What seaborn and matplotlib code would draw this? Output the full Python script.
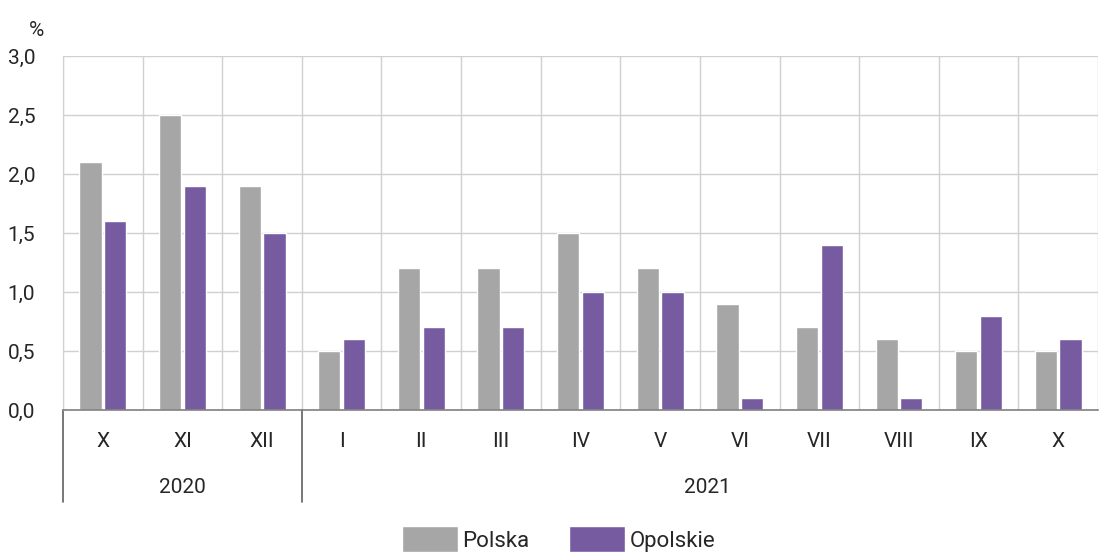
import pandas as pd
import matplotlib.pyplot as plt
import matplotlib.transforms as mtransforms
import seaborn as sns

miesiace = ['X', 'XI', 'XII', 'I', 'II', 'III', 'IV', 'V', 'VI', 'VII', 'VIII', 'IX', 'X']
lata = ['2020', '2020', '2020', '2021', '2021', '2021', '2021', '2021', '2021', '2021', '2021', '2021', '2021']
polska = [2.1, 2.5, 1.9, 0.5, 1.2, 1.2, 1.5, 1.2, 0.9, 0.7, 0.6, 0.5, 0.5]
opolskie = [1.6, 1.9, 1.5, 0.6, 0.7, 0.7, 1.0, 1.0, 0.1, 1.4, 0.1, 0.8, 0.6]
serie = ['Polska', 'Opolskie']
kolory = ['#a6a6a6', '#744fad']

klucze = [f'{r}-{m}' for r, m in zip(lata, miesiace)]
df = pd.DataFrame({
    'klucz': klucze * 2,
    'wartosc': polska + opolskie,
    'seria': ['Polska'] * len(polska) + ['Opolskie'] * len(opolskie),
})

sns.set_style('white')
plt.rcParams['font.family'] = ['Roboto', 'DejaVu Sans']

fig = plt.figure(figsize=(11.02, 5.57), dpi=100)
ax = fig.add_axes([0.0572, 0.2639, 0.9392, 0.6356])

sns.barplot(data=df, x='klucz', y='wartosc', hue='seria', order=klucze, hue_order=serie,
            palette=kolory, width=0.62, gap=0.1, ax=ax, legend=True)

ax.set_xlim(-0.5, len(klucze) - 0.5)
ax.set_ylim(0, 3.0)
ax.set_yticks([i * 0.5 for i in range(7)])
ax.set_yticklabels([f'{i * 0.5:.1f}'.replace('.', ',') for i in range(7)], fontsize=15)
ax.set_xticks(range(len(klucze)))
ax.set_xticklabels(miesiace, fontsize=15)
ax.tick_params(axis='both', length=0)
ax.tick_params(axis='x', pad=16)
ax.tick_params(axis='y', pad=20)
ax.set_xlabel('')
ax.set_ylabel('')

ax.set_xticks([i - 0.5 for i in range(len(klucze) + 1)], minor=True)
ax.tick_params(axis='x', which='minor', length=0)
ax.grid(axis='y', color='#d0d0d0', linewidth=1)
ax.grid(axis='x', which='minor', color='#d0d0d0', linewidth=1)
ax.set_axisbelow(True)

for s in ['top', 'right']:
    ax.spines[s].set_visible(False)
ax.spines['left'].set_color('#d0d0d0')
ax.spines['bottom'].set_color('#808080')
ax.spines['bottom'].set_linewidth(1.2)

trans = mtransforms.blended_transform_factory(ax.transData, ax.transAxes)
for xs in [-0.5, 2.5]:
    ax.plot([xs, xs], [0, -0.26], transform=trans, color='#606060', linewidth=1.2, clip_on=False)
ax.text(1, -0.22, '2020', transform=trans, ha='center', va='center', fontsize=15)
ax.text(7.6, -0.22, '2021', transform=trans, ha='center', va='center', fontsize=15)

fig.text(0.033, 0.945, '%', ha='center', va='center', fontsize=15)

ax.get_legend().remove()
h, l = ax.get_legend_handles_labels()
fig.legend(h, l, loc='lower center', bbox_to_anchor=(0.507, -0.027), ncol=2, frameon=False,
           fontsize=16, handlelength=2.5, handleheight=1.4, handletextpad=0.2, columnspacing=1.8)

plt.savefig('out.png', dpi=100)
